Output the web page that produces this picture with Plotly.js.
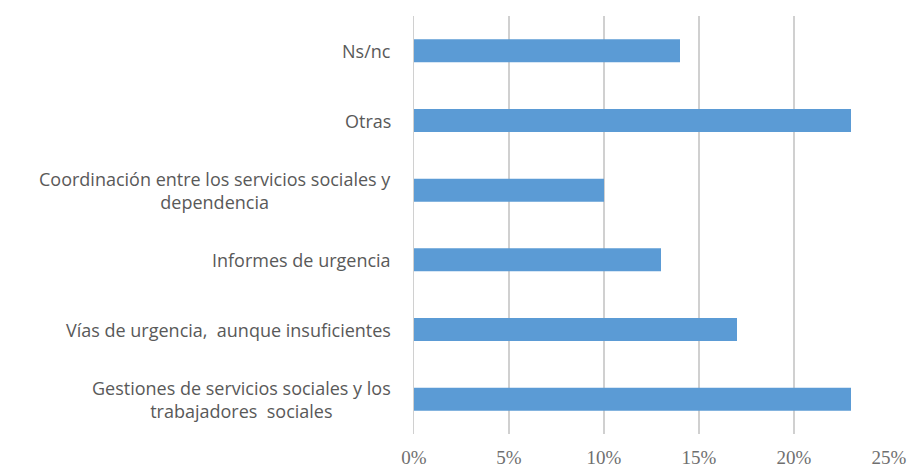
<!DOCTYPE html>
<html>
<head>
<meta charset="utf-8">
<script src="https://cdn.plot.ly/plotly-3.0.1.min.js"></script>
<style>html,body{margin:0;padding:0;background:#fff}#chart{width:914px;height:471px}</style>
</head>
<body>
<div id="chart"></div>
<script>
// Categories listed bottom to top
const categories = [
  "Gestiones de servicios sociales y los<br>trabajadores  sociales",
  "Vías de urgencia,  aunque insuficientes",
  "Informes de urgencia",
  "Coordinación entre los servicios sociales y<br>dependencia",
  "Otras",
  "Ns/nc"
];
const values = [23, 17, 13, 10, 23, 14];
const tickVals = [0, 5, 10, 15, 20, 25];
const tickText = ["0%", "5%", "10%", "15%", "20%", "25%"];

const trace = {
  type: "bar",
  orientation: "h",
  y: categories,
  x: values,
  width: 0.33,
  marker: {color: "#5b9bd5", line: {width: 0}},
  hoverinfo: "none"
};

const annotations = categories.map(c => ({
  xref: "paper", yref: "y",
  x: 0, y: c,
  xanchor: "right", yanchor: "middle",
  xshift: -21,
  align: "center",
  showarrow: false,
  text: c,
  font: {family: "'Open Sans', sans-serif", size: 18, color: "#595959"}
}));

const layout = {
  width: 914, height: 471,
  margin: {l: 414, r: 25, t: 16, b: 37},
  paper_bgcolor: "#fff", plot_bgcolor: "#fff",
  showlegend: false,
  xaxis: {
    range: [0, 25],
    tickvals: tickVals, ticktext: tickText,
    showgrid: true, gridcolor: "#d0d0d0", gridwidth: 1.5,
    zeroline: false, showline: false,
    ticks: "outside", ticklen: 6, tickcolor: "rgba(0,0,0,0)",
    tickfont: {family: "'Liberation Serif', 'DejaVu Serif', serif", size: 19, color: "#6f6f6f"},
    fixedrange: true
  },
  yaxis: {
    type: "category",
    categoryorder: "array", categoryarray: categories,
    range: [-0.5, 5.5],
    showticklabels: false,
    showgrid: false, zeroline: false,
    showline: true, linecolor: "#d0d0d0", linewidth: 1.5,
    fixedrange: true
  },
  annotations: annotations
};

Plotly.newPlot("chart", [trace], layout, {displayModeBar: false, staticPlot: true});
</script>
</body>
</html>
